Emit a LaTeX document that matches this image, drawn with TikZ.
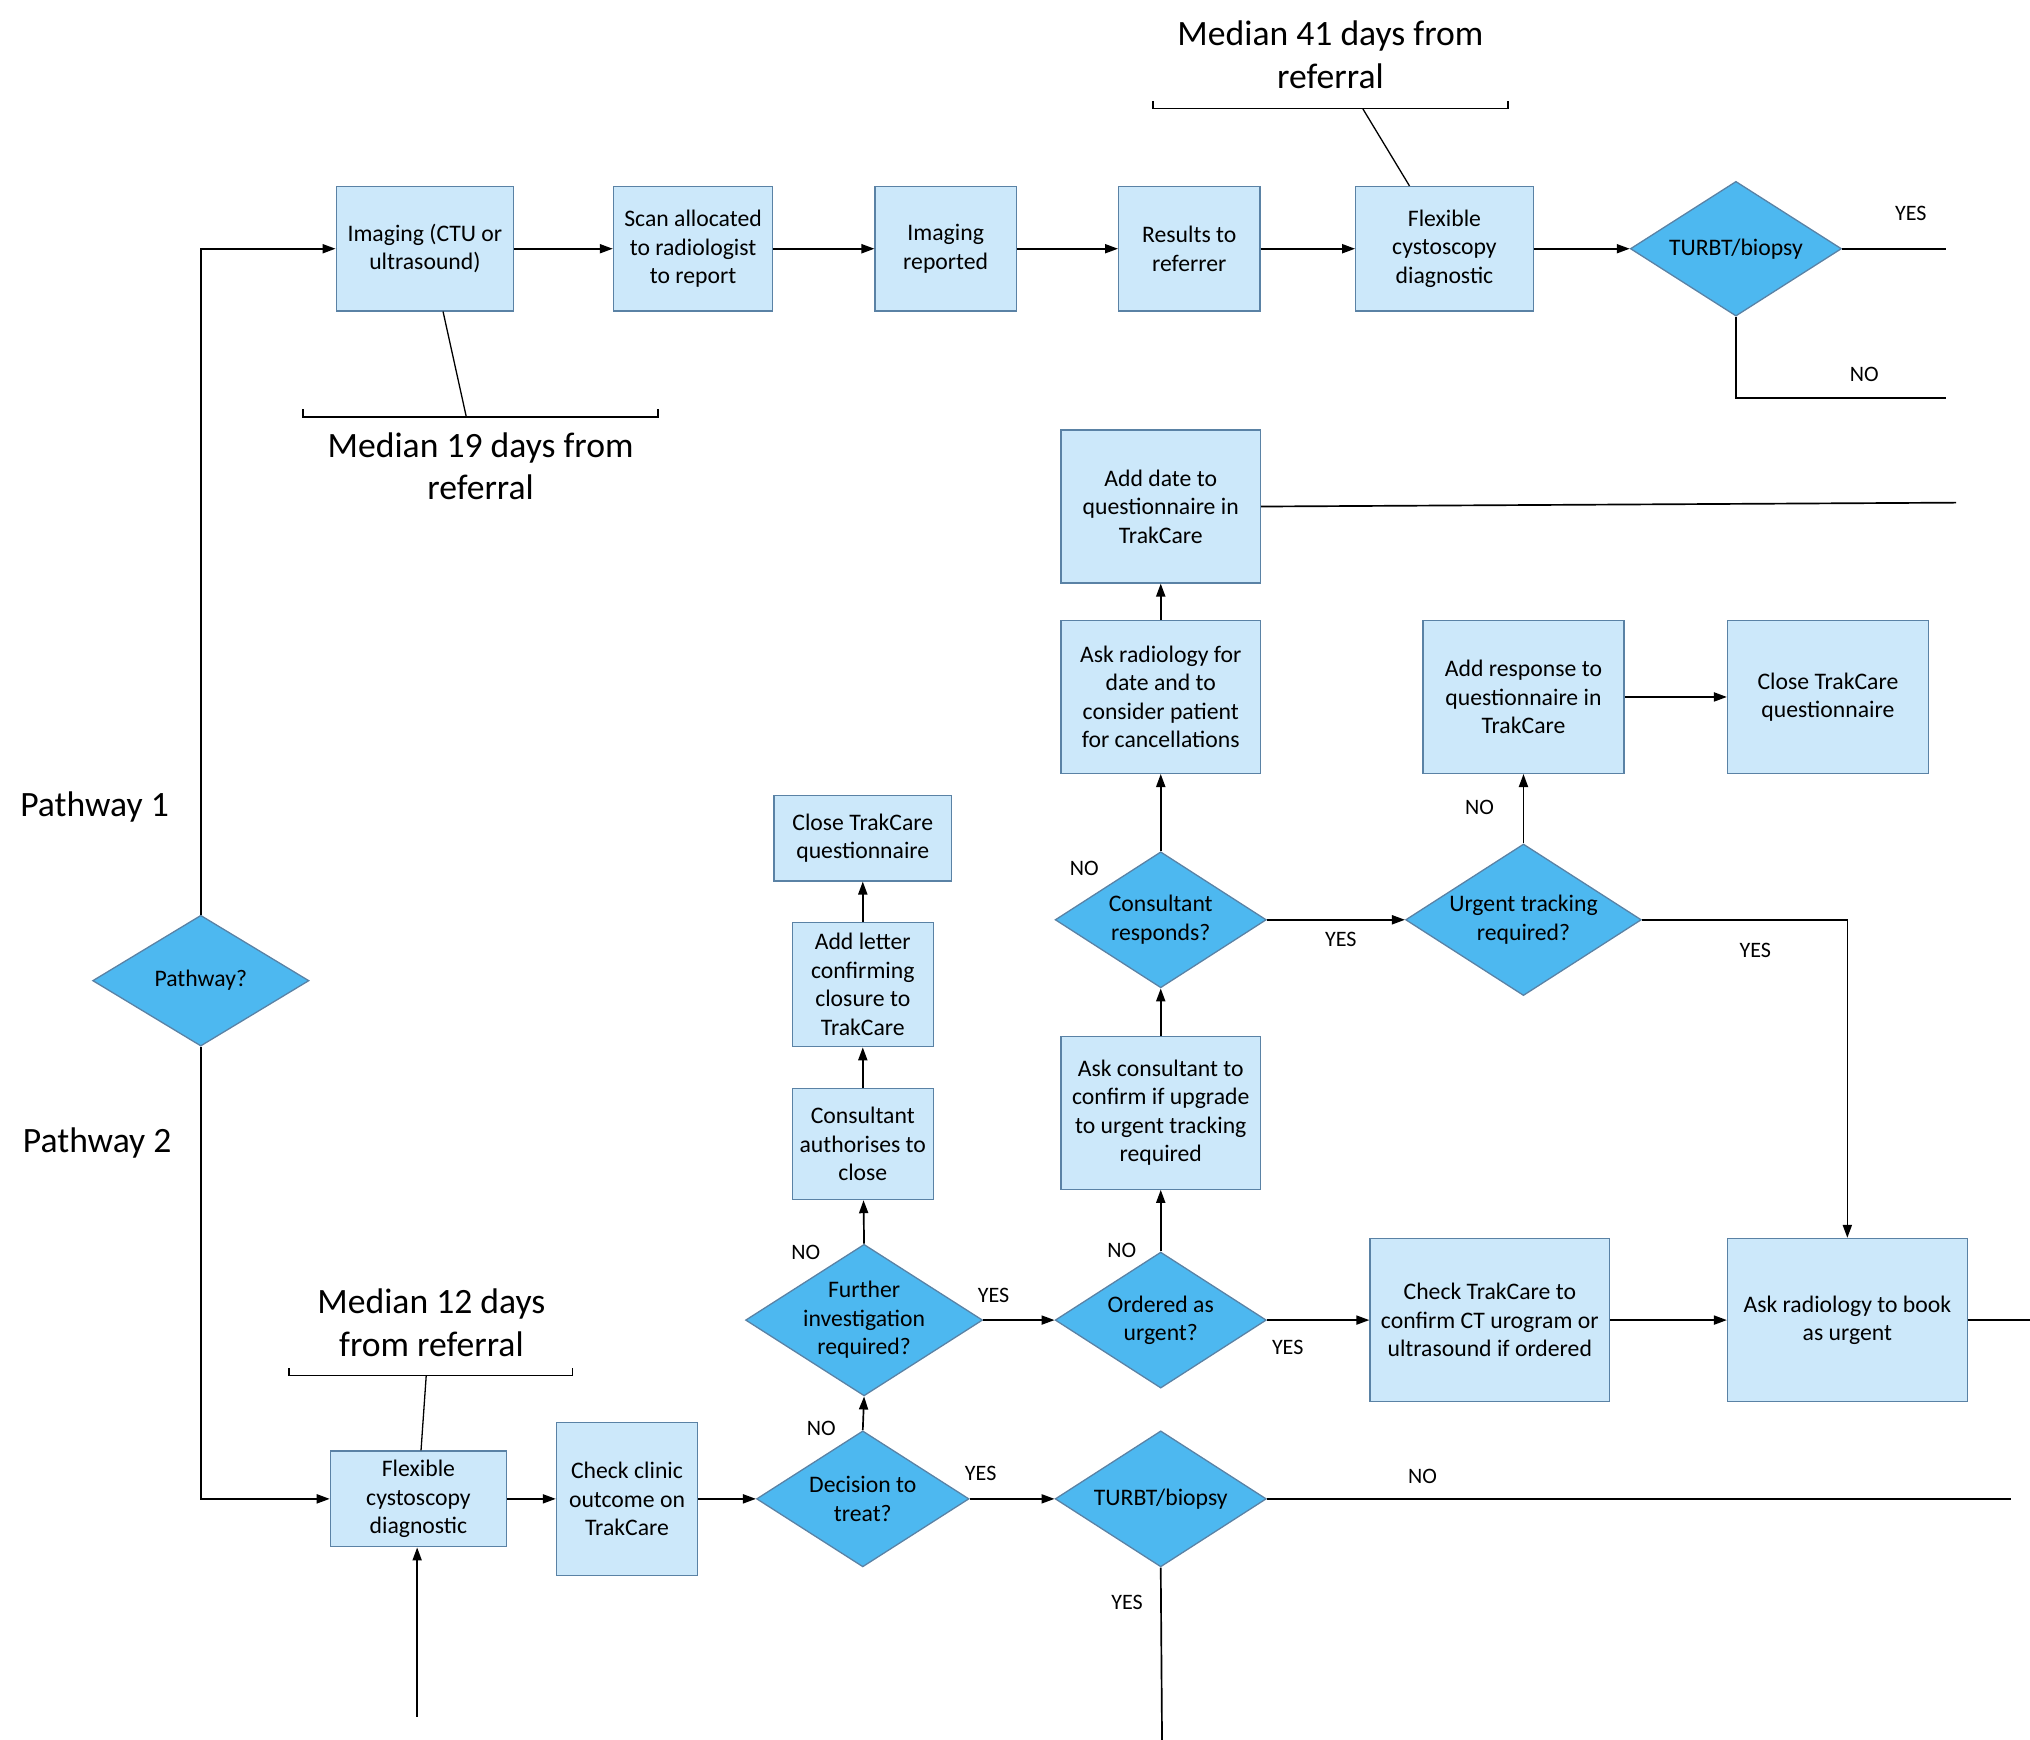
\documentclass[tikz,border=0pt]{standalone}
\usepackage{fontspec}
\setmainfont{Carlito}
\usetikzlibrary{shapes.geometric,arrows.meta}
\definecolor{boxfill}{RGB}{204,232,250}
\definecolor{boxline}{RGB}{90,130,165}
\definecolor{dfill}{RGB}{77,184,240}
\begin{document}
\begin{tikzpicture}[x=1pt,y=-1pt,line width=1.3pt,
  box/.style={draw=boxline,fill=boxfill,line width=1pt,align=center,inner sep=2pt,font=\fontsize{18.3}{22}\selectfont},
  dia/.style={draw=boxline,fill=dfill,line width=1pt,diamond,inner sep=0pt},
  dtxt/.style={align=center,font=\fontsize{18.3}{22}\selectfont},
  lab/.style={font=\fontsize{17}{20}\selectfont},
  big/.style={align=center,font=\fontsize{27.5}{33}\selectfont},
  arr/.style={-{Triangle[length=10pt,width=7pt]}},
  br/.style={line width=1pt}]
\useasboundingbox (0,0) rectangle (1567,1343);
% top row
\node[box,minimum width=137pt,minimum height=96pt] (img1) at (328,192) {Imaging (CTU or\\ultrasound)};
\node[box,minimum width=123pt,minimum height=96pt] (scan) at (535,192) {Scan allocated\\to radiologist\\to report};
\node[box,minimum width=109pt,minimum height=96pt] (imgrep) at (730,192) {Imaging\\reported};
\node[box,minimum width=109pt,minimum height=96pt] (res) at (918,192) {Results to\\referrer};
\node[box,minimum width=137pt,minimum height=96pt] (flex1) at (1115,192) {Flexible\\cystoscopy\\diagnostic};
\node[dia,minimum width=163pt,minimum height=104pt] (t1) at (1340,192) {};
\node[dtxt] at (t1) {TURBT/biopsy};
\draw[arr] (img1) -- (scan);
\draw[arr] (scan) -- (imgrep);
\draw[arr] (imgrep) -- (res);
\draw[arr] (res) -- (flex1);
\draw[arr] (flex1) -- (t1);
\coordinate (t1yes) at (1502,192);
\coordinate (t1no) at (1502,307);
\draw (t1.east) -- (t1yes);
\draw (t1.south) |- (t1no);
\node[lab] at (1475,165) {YES};
\node[lab] at (1439,289) {NO};
% brackets
\coordinate (b1l) at (890,78); \coordinate (b1r) at (1164,78);
\draw[br] (b1l) -- ++(0,6) -- (1164,84) -- (b1r);
\coordinate (b1m) at (1052,84);
\draw[br] (b1m) -- (flex1.north -| 1088,0);
\node[big] at (1027,42) {Median 41 days from\\referral};
\coordinate (b2l) at (234,316); \coordinate (b2r) at (508,316);
\draw[br] (b2l) -- ++(0,6) -- (508,322) -- (b2r);
\coordinate (b2m) at (360,322);
\draw[br] (b2m) -- (img1.south -| 342,0);
\node[big] at (371,360) {Median 19 days from\\referral};
% middle
\node[box,minimum width=154pt,minimum height=118pt] (adddate) at (896,391) {Add date to\\questionnaire in\\TrakCare};
\coordinate (adend) at (1510,388);
\draw (adddate.east) -- (adend);
\node[box,minimum width=154pt,minimum height=118pt] (askrad) at (896,538) {Ask radiology for\\date and to\\consider patient\\for cancellations};
\draw[arr] (askrad) -- (adddate);
\node[dia,minimum width=163pt,minimum height=105pt] (cons) at (896,710) {};
\node[dtxt] at (cons) {Consultant\\responds?};
\draw[arr] (cons.north) -- (askrad);
\node[lab] at (837,670) {NO};
\node[dia,minimum width=182pt,minimum height=117pt] (urg) at (1176,710) {};
\node[dtxt] at (urg) {Urgent tracking\\required?};
\draw[arr] (cons.east) -- (urg.west);
\node[lab] at (1035,725) {YES};
\node[box,minimum width=155pt,minimum height=118pt] (addresp) at (1176,538) {Add response to\\questionnaire in\\TrakCare};
\node[box,minimum width=155pt,minimum height=118pt] (close2) at (1411,538) {Close TrakCare\\questionnaire};
\draw[arr] (urg.north) -- (addresp);
\node[lab] at (1142,623) {NO};
\draw[arr] (addresp) -- (close2);
\node[box,minimum width=185pt,minimum height=126pt] (book) at (1426,1019) {Ask radiology to book\\as urgent};
\draw[arr] (urg.east) -| (book.north);
\node[lab] at (1355,734) {YES};
\node[box,minimum width=154pt,minimum height=118pt] (askcons) at (896,859) {Ask consultant to\\confirm if upgrade\\to urgent tracking\\required};
\draw[arr] (askcons) -- (cons.south);
\node[dia,minimum width=163pt,minimum height=105pt] (ord) at (896,1019) {};
\node[dtxt] at (ord) {Ordered as\\urgent?};
\draw[arr] (ord.north) -- (askcons);
\node[lab] at (866,965) {NO};
\node[box,minimum width=185pt,minimum height=126pt] (check) at (1150,1019) {Check TrakCare to\\confirm CT urogram or\\ultrasound if ordered};
\draw[arr] (ord.east) -- (check);
\node[lab] at (994,1040) {YES};
\draw[arr] (check) -- (book);
\coordinate (bookend) at (1567,1019);
\draw (book.east) -- (bookend);
\node[dia,minimum width=183pt,minimum height=117pt] (fur) at (667,1019) {};
\node[dtxt] at (fur) {Further\\investigation\\required?};
\draw[arr] (fur.east) -- (ord.west);
\node[lab] at (767,1000) {YES};
\node[box,minimum width=109pt,minimum height=86pt] (auth) at (666,883) {Consultant\\authorises to\\close};
\node[box,minimum width=109pt,minimum height=96pt] (letter) at (666,760) {Add letter\\confirming\\closure to\\TrakCare};
\node[box,minimum width=137pt,minimum height=66pt] (close1) at (666,647) {Close TrakCare\\questionnaire};
\draw[arr] (fur.north) -- (auth);
\node[lab] at (622,967) {NO};
\draw[arr] (auth) -- (letter);
\draw[arr] (letter) -- (close1);
% bottom row
\node[dia,minimum width=164pt,minimum height=105pt] (dec) at (666,1157) {};
\node[dtxt] at (dec) {Decision to\\treat?};
\draw[arr] (dec.north) -- (fur.south);
\node[lab] at (634,1103) {NO};
\node[dia,minimum width=163pt,minimum height=105pt] (t2) at (896,1157) {};
\node[dtxt] at (t2) {TURBT/biopsy};
\draw[arr] (dec.east) -- (t2.west);
\node[lab] at (757,1137) {YES};
\coordinate (t2no) at (1552,1157);
\coordinate (t2yes) at (897,1343);
\draw (t2.east) -- (t2no);
\node[lab] at (1098,1140) {NO};
\draw (t2.south) -- (t2yes);
\node[lab] at (870,1237) {YES};
\node[box,minimum width=136pt,minimum height=74pt] (flex2) at (323,1157) {Flexible\\cystoscopy\\diagnostic};
\node[box,minimum width=109pt,minimum height=118pt] (clinic) at (484,1157) {Check clinic\\outcome on\\TrakCare};
\draw[arr] (flex2) -- (clinic);
\draw[arr] (clinic) -- (dec.west);
\coordinate (inb) at (322,1325);
\draw[arr] (inb) -- (flex2.south -| inb);
\coordinate (b3l) at (223,1056); \coordinate (b3r) at (442,1056);
\draw[br] (b3l) -- ++(0,6) -- (442,1062) -- (b3r);
\coordinate (b3m) at (329,1062);
\draw[br] (b3m) -- (flex2.north -| 325,0);
\node[big] at (333,1021) {Median 12 days\\from referral};
% pathway
\node[dia,minimum width=167pt,minimum height=101pt] (pw) at (155,757) {};
\node[dtxt] at (pw) {Pathway?};
\draw[arr] (pw.north) |- (img1.west);
\draw[arr] (pw.south) |- (flex2.west);
\node[big] at (73,623) {Pathway 1};
\node[big] at (75,882) {Pathway 2};
\end{tikzpicture}
\end{document}
